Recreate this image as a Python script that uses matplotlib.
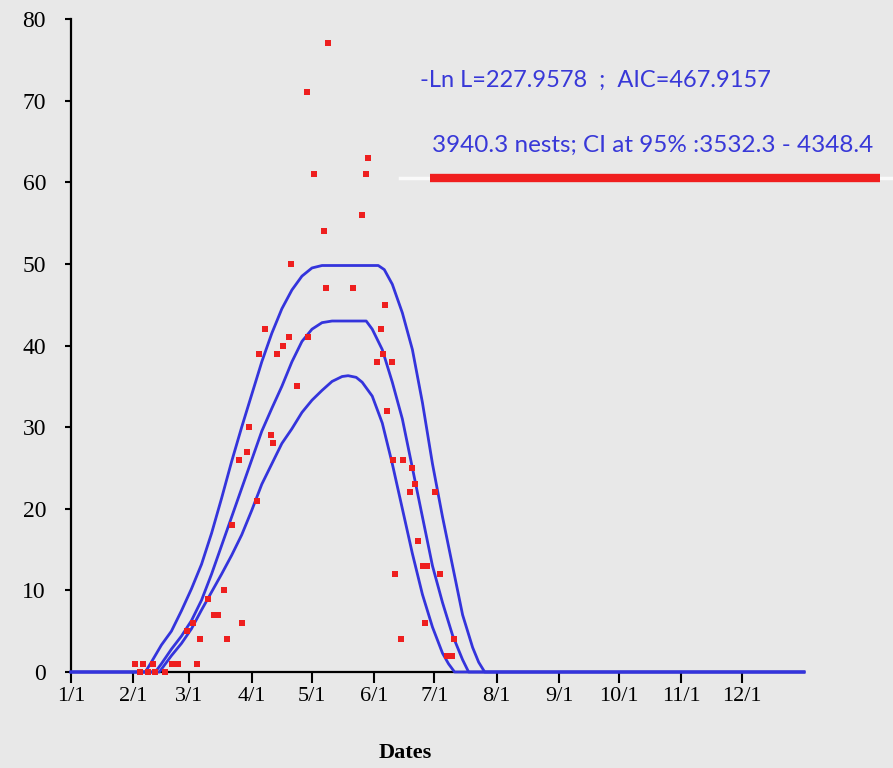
import matplotlib.pyplot as plt
from matplotlib.lines import Line2D

# observed daily counts (day of year, count)
pt_days = [31.9, 35.8, 40.8, 50.3, 53.3, 62.7,
           34.3, 38.3, 41.8, 46.8,
           57.6, 60.6, 64.2, 68.3, 71.2, 73.2, 76.2, 77.8, 80.0, 83.6, 85.0,
           87.8, 88.8, 92.7, 93.7, 96.7, 99.4, 100.7, 102.4, 105.7, 108.5,
           109.5, 112.3, 117.3, 118.1, 121.1, 126.1, 126.9, 128.1, 140.5,
           144.7, 146.7, 147.7, 152.5, 154.3, 155.5, 156.3, 157.4, 159.6,
           160.1, 161.3, 164.3, 165.4, 168.7, 170.0, 171.2, 172.9, 175.1,
           176.2, 177.1, 181.2, 183.7, 187.0, 189.5, 190.6]
pt_counts = [1, 1, 1, 1, 1, 1,
             0, 0, 0, 0,
             5, 6, 4, 9, 7, 7, 10, 4, 18, 26, 6,
             27, 30, 21, 39, 42, 29, 28, 39, 40, 41,
             50, 35, 71, 41, 61, 54, 47, 77, 47,
             56, 61, 63, 38, 42, 39, 45, 32, 38,
             26, 12, 4, 26, 22, 25, 23, 16, 13,
             6, 13, 22, 12, 2, 2, 4]

# fitted curve and its confidence limits
hi_days = [0, 37, 40, 45, 50, 55, 60, 65, 70, 75, 80, 85, 90, 95, 100, 105, 110,
           115, 120, 125, 153, 156, 160, 165, 170, 175, 180, 185, 190, 195,
           200, 203, 206, 365]
hi_vals = [0, 0, 1.2, 3.3, 5.0, 7.5, 10.2, 13.2, 17, 21.3, 25.8, 30, 34, 38,
           41.5, 44.5, 46.8, 48.5, 49.5, 49.8, 49.8, 49.3, 47.5, 44, 39.5, 33,
           25.5, 19, 13, 7, 3, 1.2, 0, 0]

mid_days = [0, 42, 45, 50, 55, 60, 65, 70, 75, 80, 85, 90, 95, 100, 105, 110,
            115, 120, 125, 130, 147, 150, 155, 160, 165, 170, 175, 180, 185,
            190, 195, 198, 365]
mid_vals = [0, 0, 1.0, 2.8, 4.4, 6.3, 8.8, 12, 15.5, 19, 22.5, 26, 29.5, 32.3,
            35, 38, 40.5, 42, 42.8, 43, 43, 42, 39.5, 35.5, 31, 25, 19, 13,
            8.5, 4.5, 1.5, 0, 0]

lo_days = [0, 44, 50, 55, 60, 65, 70, 75, 80, 85, 90, 95, 100, 105, 110, 115,
           120, 125, 130, 135, 138, 142, 145, 150, 155, 160, 165, 170, 175,
           180, 185, 188, 191, 365]
lo_vals = [0, 0, 2.0, 3.5, 5.3, 7.6, 9.8, 12, 14.3, 16.8, 19.8, 23, 25.5, 28,
           29.8, 31.8, 33.3, 34.5, 35.6, 36.2, 36.3, 36.1, 35.5, 33.8, 30.5,
           25.5, 20, 14.5, 9.5, 5.5, 2.3, 1, 0, 0]

month_days = [0, 31, 59, 90, 120, 151, 181, 212, 243, 273, 304, 334]
month_labels = ['1/1', '2/1', '3/1', '4/1', '5/1', '6/1', '7/1', '8/1',
                '9/1', '10/1', '11/1', '12/1']
y_ticks = [0, 10, 20, 30, 40, 50, 60, 70, 80]

stat_line = '-Ln L=227.9578  ;  AIC=467.9157'
nest_line = '3940.3 nests; CI at 95% :3532.3 - 4348.4'

bg = '#e8e8e8'
serif = ['Liberation Serif', 'DejaVu Serif']
narrow = ['Lato', 'DejaVu Sans']

fig = plt.figure(figsize=(8.93, 7.68), dpi=100, facecolor=bg)
ax = fig.add_axes([71 / 893, 1 - 672 / 768, 733 / 893, 653 / 768])
ax.set_facecolor(bg)

for d, v in [(hi_days, hi_vals), (mid_days, mid_vals), (lo_days, lo_vals)]:
    ax.plot(d, v, color='#3434dc', lw=2.0, clip_on=False, zorder=3)
ax.plot(pt_days, pt_counts, 's', color='#ee1f1f', ms=5, mew=0,
        clip_on=False, zorder=4)

ax.set_xlim(0, 365)
ax.set_ylim(0, 80)
ax.spines['top'].set_visible(False)
ax.spines['right'].set_visible(False)
ax.spines['left'].set_linewidth(1.6)
ax.spines['bottom'].set_linewidth(1.6)

ax.set_xticks(month_days)
ax.set_xticklabels(month_labels, fontfamily=serif, fontsize=16)
ax.set_yticks(y_ticks)
ax.set_yticklabels([str(t) for t in y_ticks], fontfamily=serif, fontsize=17)
ax.tick_params(axis='x', direction='out', length=8, width=1.5, pad=3)
ax.tick_params(axis='y', direction='out', length=4, width=1.5, pad=14)

ax.set_xlabel('Dates', fontfamily=serif, fontweight='bold', fontsize=16)
ax.xaxis.set_label_coords(0.456, -0.108)

fig.text(420 / 893, 1 - 80 / 768, stat_line, color='#3838d8', fontsize=17,
         family=narrow, va='center')
fig.text(432 / 893, 1 - 145 / 768, nest_line, color='#3838d8', fontsize=17.5,
         family=narrow, va='center')

fig.add_artist(Line2D([400 / 893, 1.0], [1 - 178 / 768] * 2, color='white',
                      lw=2.5, alpha=0.8))
fig.add_artist(Line2D([430 / 893, 880 / 893], [1 - 178 / 768] * 2,
                      color='#f01e1e', lw=6, solid_capstyle='butt'))

fig.savefig('out.png', dpi=100, facecolor=bg)
